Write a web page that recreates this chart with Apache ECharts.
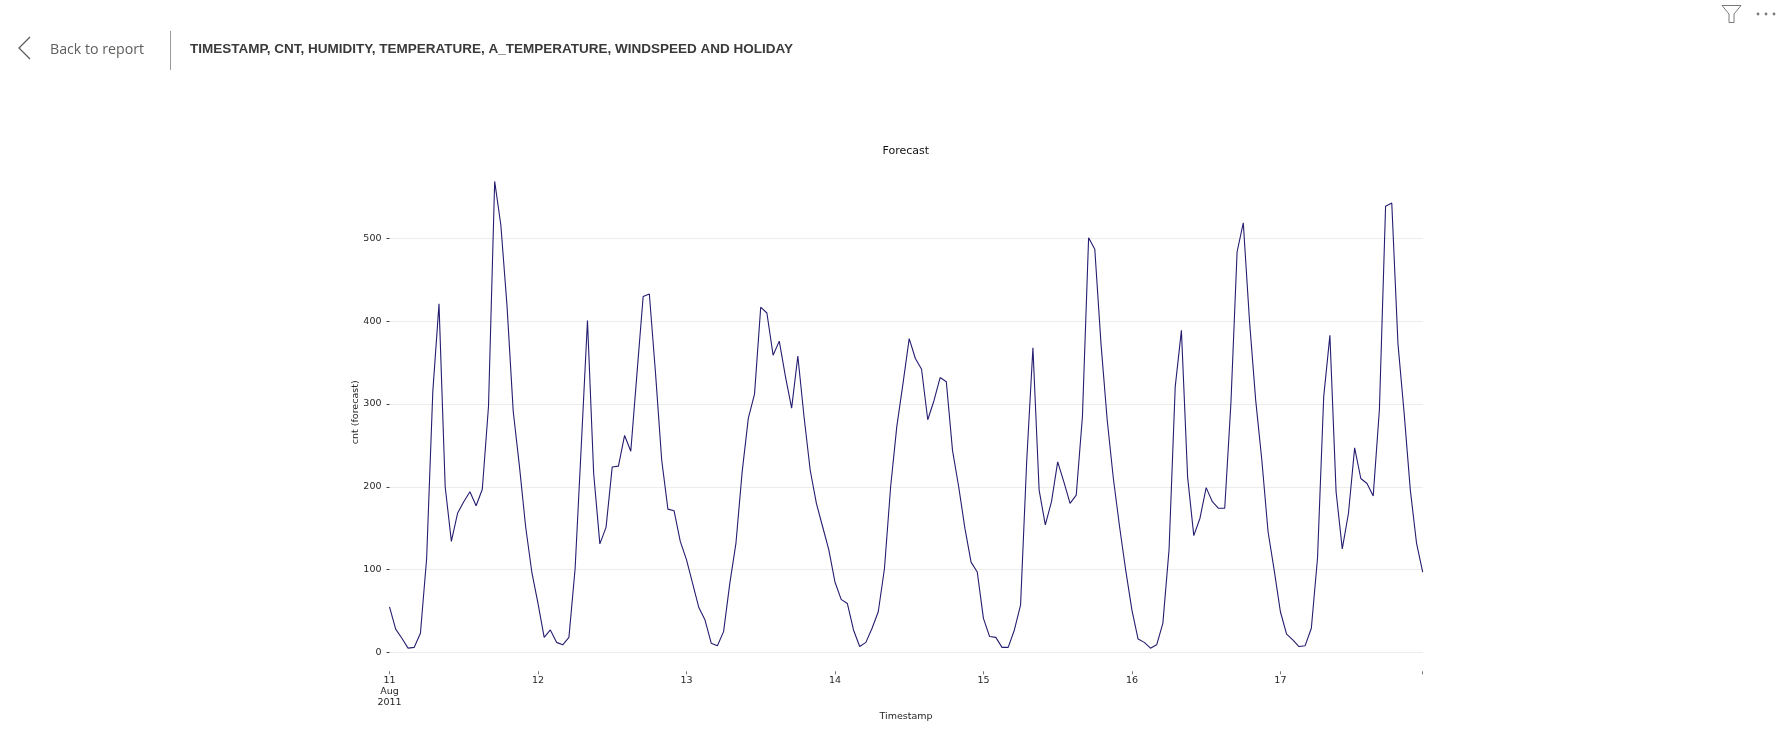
<!DOCTYPE html>
<html>
<head>
<meta charset="utf-8">
<title>Forecast</title>
<script src="https://cdn.jsdelivr.net/npm/echarts@6/dist/echarts.min.js"></script>
<style>
html, body { margin: 0; padding: 0; background: #fff; }
#main { width: 1776px; height: 748px; }
</style>
</head>
<body>
<div id="main"></div>
<script>
// hourly forecast, one list per day
var aug11 = [55, 28, 17, 5, 6, 23, 113, 315, 421, 200, 134, 168, 182, 194, 177, 197, 297, 569, 516, 418, 291, 225, 152, 97]
var aug12 = [59, 18, 27, 12, 9, 18, 101, 250, 401, 216, 131, 151, 224, 225, 262, 243, 337, 430, 433, 337, 232, 173, 171, 134]
var aug13 = [112, 83, 54, 39, 11, 8, 25, 83, 132, 218, 283, 312, 417, 410, 359, 376, 333, 295, 358, 285, 220, 180, 152, 124]
var aug14 = [85, 64, 59, 27, 7, 12, 29, 49, 101, 200, 273, 325, 379, 355, 342, 281, 304, 332, 327, 244, 200, 150, 109, 97]
var aug15 = [41, 19, 18, 6, 6, 27, 57, 232, 368, 196, 154, 182, 230, 206, 180, 190, 285, 501, 487, 373, 281, 210, 152, 99]
var aug16 = [51, 16, 12, 5, 9, 35, 124, 321, 389, 212, 141, 162, 199, 182, 174, 174, 301, 484, 519, 401, 305, 232, 146, 99]
var aug17 = [49, 22, 15, 7, 8, 29, 114, 309, 383, 194, 125, 168, 247, 210, 204, 189, 293, 539, 543, 373, 289, 196, 132, 97]
var days = [aug11, aug12, aug13, aug14, aug15, aug16, aug17]
var dayLabels = ['11\nAug\n2011', '12', '13', '14', '15', '16', '17']
var yTicks = [0, 100, 200, 300, 400, 500]

var values = []
var categories = []
days.forEach(function(day, d) {
    day.forEach(function(v, h) {
        values.push(v)
        categories.push(h == 0 ? dayLabels[d] : '')
    })
})

var textColor = '#262626'
var plotFont = '"DejaVu Sans", sans-serif'

var myChart = echarts.init(document.getElementById('main'), null, { renderer: 'canvas' })

var option = {
    animation: false,
    backgroundColor: '#fff',
    title: {
        text: 'Forecast',
        left: 877.5,
        top: 141,
        textStyle: { fontFamily: plotFont, fontSize: 11, fontWeight: 'normal', color: '#111' }
    },
    grid: { left: 389.5, right: 353.3, top: 172.3, bottom: 95.7 },
    xAxis: {
        type: 'category',
        data: categories,
        boundaryGap: false,
        offset: 19,
        axisLine: { show: false, onZero: false },
        axisTick: {
            show: true,
            length: 3,
            lineStyle: { color: '#777', width: 1 },
            interval: function(i) { return i % 24 == 0 || i == values.length - 1 }
        },
        axisLabel: {
            interval: function(i) { return i % 24 == 0 },
            fontFamily: plotFont,
            fontSize: 9.5,
            lineHeight: 11,
            color: textColor,
            margin: 4,
            hideOverlap: false
        },
        name: 'Timestamp',
        nameLocation: 'middle',
        nameGap: 40,
        nameMoveOverlap: false,
        nameTextStyle: { fontFamily: plotFont, fontSize: 9.5, color: textColor },
        splitLine: { show: false }
    },
    yAxis: {
        type: 'value',
        min: 0,
        max: 580,
        interval: 100,
        axisLine: { show: false },
        axisTick: { show: true, length: 3, lineStyle: { color: '#444', width: 1 }, customValues: yTicks },
        axisLabel: { fontFamily: plotFont, fontSize: 9.5, color: textColor, margin: 8, customValues: yTicks },
        splitLine: { show: true, lineStyle: { color: '#d8d8d8', width: 1, type: 'dotted' } },
        name: 'cnt (forecast)',
        nameLocation: 'middle',
        nameGap: 29,
        nameMoveOverlap: false,
        nameTextStyle: { fontFamily: plotFont, fontSize: 9.5, color: textColor }
    },
    series: [{
        type: 'line',
        data: values,
        showSymbol: false,
        smooth: false,
        lineStyle: { color: '#241d70', width: 1.1 }
    }],
    graphic: [
        // report header
        { type: 'polyline', shape: { points: [[30, 37], [19, 48], [30, 59]] }, style: { stroke: '#605e5c', lineWidth: 1.3, fill: null } },
        { type: 'text', x: 50, y: 43, style: { text: 'Back to report', fontFamily: '"Open Sans"', fontSize: 14.2, fill: '#605e5c' } },
        { type: 'line', shape: { x1: 170.5, y1: 31, x2: 170.5, y2: 70 }, style: { stroke: '#9a9a9a', lineWidth: 1 } },
        { type: 'text', x: 190, y: 42, style: { text: 'TIMESTAMP, CNT, HUMIDITY, TEMPERATURE, A_TEMPERATURE, WINDSPEED AND HOLIDAY', fontFamily: '"Liberation Sans"', fontSize: 13.5, fontWeight: 'bold', fill: '#3b3a39' } },
        // filter icon and dots
        { type: 'polyline', shape: { points: [[1722, 5.5], [1741, 5.5], [1734, 14], [1734, 22.5], [1729, 22.5], [1729, 14], [1722, 5.5]] }, style: { stroke: '#7a7a7a', lineWidth: 1, fill: null } },
        { type: 'circle', shape: { cx: 1758, cy: 14, r: 1.4 }, style: { fill: '#7a7a7a' } },
        { type: 'circle', shape: { cx: 1766, cy: 14, r: 1.4 }, style: { fill: '#7a7a7a' } },
        { type: 'circle', shape: { cx: 1774, cy: 14, r: 1.4 }, style: { fill: '#7a7a7a' } }
    ]
}

myChart.setOption(option)
</script>
</body>
</html>
